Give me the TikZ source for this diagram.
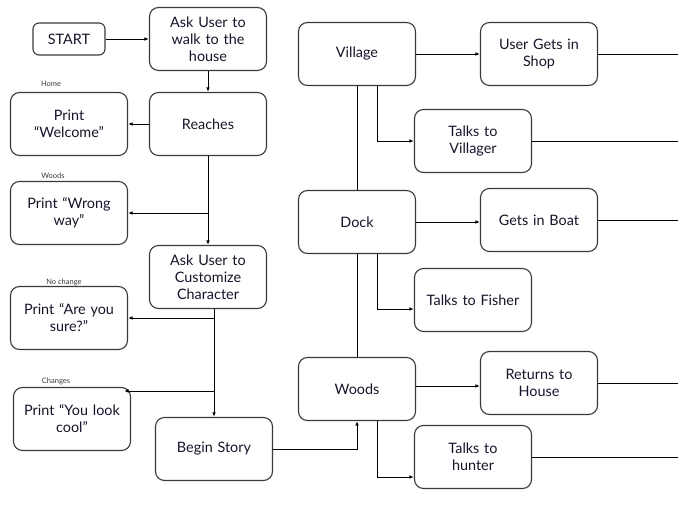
\documentclass[tikz,border=0pt]{standalone}
\usepackage{fontspec}
\setmainfont{Lato}
\usepackage{xcolor}
\usetikzlibrary{arrows.meta, positioning}
\definecolor{boxline}{HTML}{3A3A3A}
\definecolor{inktext}{HTML}{15152A}

\begin{document}
\begin{tikzpicture}[
    x=1pt, y=-1pt,
    stepbox/.style={rectangle, rounded corners=9pt, draw=boxline, line width=1.1pt, fill=white, align=center, minimum width=117pt, minimum height=63pt, text width=110pt, font=\fontsize{14.4}{17}\selectfont, text=inktext, inner sep=2pt},
    startbox/.style={stepbox, minimum width=72pt, minimum height=32pt, text width=64pt, rounded corners=6pt},
    tag/.style={font=\fontsize{7.5}{8}\selectfont, text=boxline, inner sep=0pt},
    arrow/.style={-{Latex[length=4.5pt, width=3.5pt]}, line width=0.9pt, color=black},
    link/.style={line width=0.9pt, color=black}
]
\useasboundingbox (0,0) rectangle (678,508);

% left column: setup of the game
\node[startbox] (start) at (69,39) {START};
\node[stepbox] (walk) at (208,39) {Ask User to\\walk to the\\house};
\node[stepbox] (reaches) at (208,124) {Reaches};
\node[stepbox] (welcome) at (69,124) {Print\\``Welcome''};
\node[stepbox] (wrong) at (69,213) {Print ``Wrong\\way''};
\node[stepbox] (custom) at (208,277) {Ask User to\\Customize\\Character};
\node[stepbox] (sure) at (69,318) {Print ``Are you\\sure?''};
\node[stepbox] (cool) at (72,419) {Print ``You look\\cool''};
\node[stepbox] (story) at (214,449) {Begin Story};

\node[tag] (home) at (51,84) {Home};
\node[tag] (woodtag) at (53,176) {Woods};
\node[tag] (nochange) at (64,282) {No change};
\node[tag] (changes) at (56,381) {Changes};

% right column: places
\node[stepbox] (village) at (357,54) {Village};
\node[stepbox] (shop) at (539,54) {User Gets in\\Shop};
\node[stepbox] (villager) at (473,141) {Talks to\\Villager};
\node[stepbox] (dock) at (357,222) {Dock};
\node[stepbox] (boat) at (539,220) {Gets in Boat};
\node[stepbox] (fisher) at (473,300) {Talks to Fisher};
\node[stepbox] (woods) at (357,389) {Woods};
\node[stepbox] (returns) at (539,383) {Returns to\\House};
\node[stepbox] (hunter) at (473,457) {Talks to\\hunter};

\coordinate (j1) at (208,213);
\coordinate (j2) at (214,318);
\coordinate (j3) at (214,391);
\coordinate (rightEdge) at (678,0);

\draw[arrow] (start) -- (walk);
\draw[arrow] (walk) -- (reaches);
\draw[arrow] (reaches) -- (welcome);
\draw[arrow] (reaches) -- (custom);
\draw[arrow] (j1) -- (wrong.east |- j1);
\draw[arrow] (story.north |- custom.south) -- (story.north);
\draw[arrow] (j2) -- (sure.east |- j2);
\draw[arrow] (j3) -- ([xshift=-7pt]cool.east |- j3);
\draw[arrow] (story.east) -| (woods.south);

\draw[link] (village) -- (dock);
\draw[link] (dock) -- (woods);
\draw[arrow] (village) -- (shop);
\draw[arrow] ([xshift=20pt]village.south) |- (villager.west);
\draw[arrow] (dock.east) -- (dock.east -| boat.west);
\draw[arrow] ([xshift=20pt]dock.south) |- ([yshift=-9pt]fisher.west);
\draw[arrow] ([yshift=3pt]woods.east) -- ([yshift=3pt]woods.east -| returns.west);
\draw[arrow] ([xshift=20pt]woods.south) |- ([yshift=-20pt]hunter.west);

\draw[link] (shop.east) -- (shop.east -| rightEdge);
\draw[link] (villager.east) -- (villager.east -| rightEdge);
\draw[link] (boat.east) -- (boat.east -| rightEdge);
\draw[link] (returns.east) -- (returns.east -| rightEdge);
\draw[link] (hunter.east) -- (hunter.east -| rightEdge);
\end{tikzpicture}
\end{document}
